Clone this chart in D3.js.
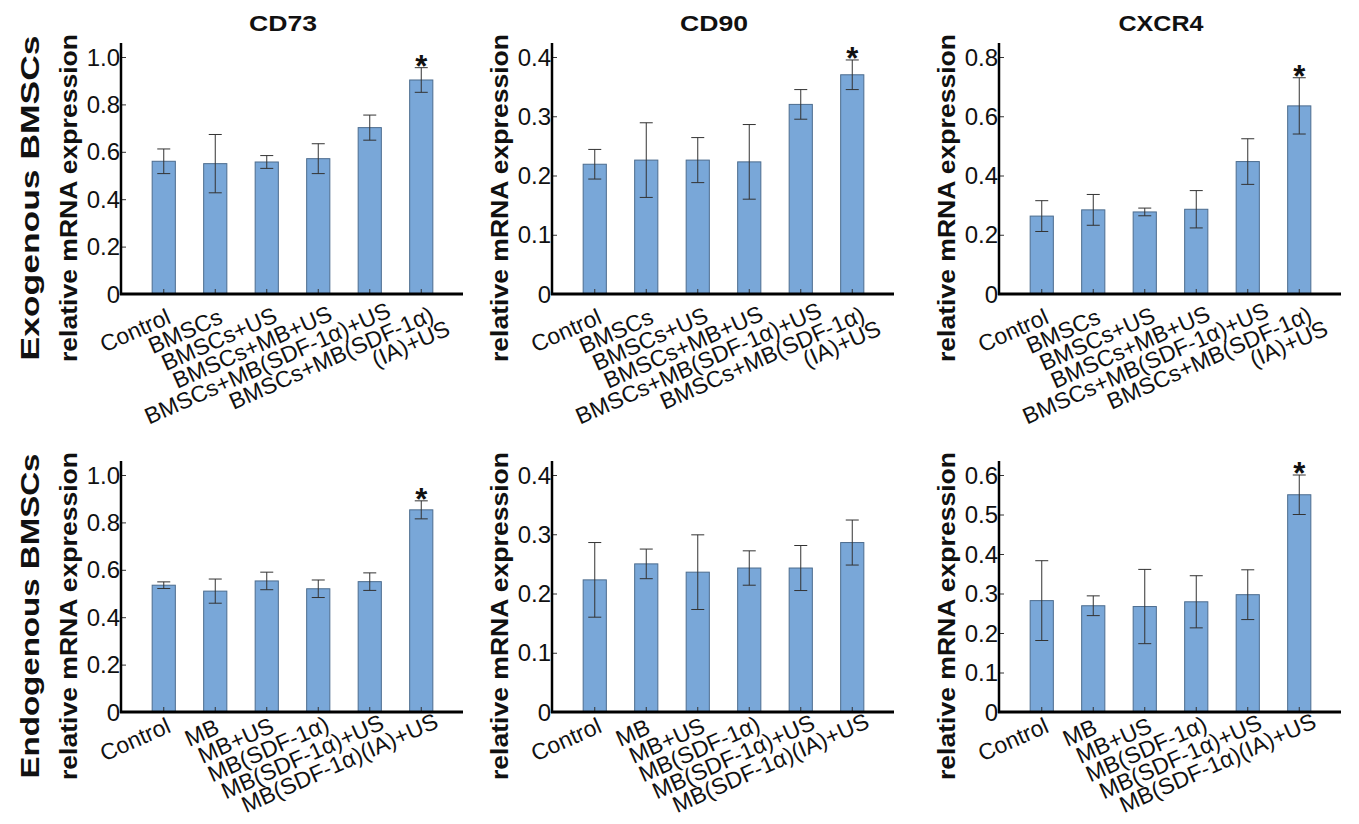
<!doctype html>
<html>
  <head>
    <meta charset="utf-8">
    <title>mRNA expression</title>
    <script src="https://cdn.jsdelivr.net/npm/d3@7"></script>
    <style>
      body { margin: 0; background: #fff; }
      text { font-family: Arial, "Liberation Sans", sans-serif; fill: #111; }
    </style>
  </head>
  <body>
    <script>
      // groups
      const exoGroups = ['Control', 'BMSCs', 'BMSCs+US', 'BMSCs+MB+US', 'BMSCs+MB(SDF-1α)+US', 'BMSCs+MB(SDF-1α)\n(IA)+US'];
      const endoGroups = ['Control', 'MB', 'MB+US', 'MB(SDF-1α)', 'MB(SDF-1α)+US', 'MB(SDF-1α)(IA)+US'];

      // means and error (sd)
      const exoCD73 = [0.56, 0.55, 0.557, 0.571, 0.702, 0.903];
      const exoCD73Err = [0.052, 0.123, 0.027, 0.063, 0.053, 0.052];
      const exoCD90 = [0.219, 0.226, 0.226, 0.223, 0.32, 0.37];
      const exoCD90Err = [0.025, 0.063, 0.038, 0.063, 0.025, 0.025];
      const exoCXCR4 = [0.263, 0.284, 0.277, 0.286, 0.447, 0.635];
      const exoCXCR4Err = [0.052, 0.052, 0.013, 0.063, 0.077, 0.095];

      const endoCD73 = [0.535, 0.51, 0.553, 0.52, 0.55, 0.853];
      const endoCD73Err = [0.014, 0.051, 0.037, 0.037, 0.037, 0.038];
      const endoCD90 = [0.223, 0.25, 0.236, 0.243, 0.243, 0.286];
      const endoCD90Err = [0.063, 0.025, 0.063, 0.029, 0.038, 0.038];
      const endoCXCR4 = [0.282, 0.269, 0.267, 0.279, 0.297, 0.55];
      const endoCXCR4Err = [0.101, 0.025, 0.094, 0.066, 0.063, 0.05];

      // y axis ticks
      const ticksCD73 = [0, 0.2, 0.4, 0.6, 0.8, 1.0];
      const ticksCD90 = [0, 0.1, 0.2, 0.3, 0.4];
      const ticksCXCR4Exo = [0, 0.2, 0.4, 0.6, 0.8];
      const ticksCXCR4Endo = [0, 0.1, 0.2, 0.3, 0.4, 0.5, 0.6];

      const genes = ['CD73', 'CD90', 'CXCR4'];
      const rowLabels = ['Exogenous BMSCs', 'Endogenous BMSCs'];

      const panels = [
        {row: 0, col: 0, groups: exoGroups, mean: exoCD73, err: exoCD73Err, ticks: ticksCD73, star: [5]},
        {row: 0, col: 1, groups: exoGroups, mean: exoCD90, err: exoCD90Err, ticks: ticksCD90, star: [5]},
        {row: 0, col: 2, groups: exoGroups, mean: exoCXCR4, err: exoCXCR4Err, ticks: ticksCXCR4Exo, star: [5]},
        {row: 1, col: 0, groups: endoGroups, mean: endoCD73, err: endoCD73Err, ticks: ticksCD73, star: [5]},
        {row: 1, col: 1, groups: endoGroups, mean: endoCD90, err: endoCD90Err, ticks: ticksCD90, star: []},
        {row: 1, col: 2, groups: endoGroups, mean: endoCXCR4, err: endoCXCR4Err, ticks: ticksCXCR4Endo, star: [5]}
      ];

      const width = 1359;
      const height = 824;
      const axisX = [121, 552, 999];
      const baseY = [294, 712];
      const labelDrop = [31, 22];
      const plotH = 237;

      const svg = d3.select('body').append('svg')
          .attr('width', width)
          .attr('height', height);

      const fmt = v => v === 0 ? '0' : d3.format('.1f')(v);

      panels.forEach(p => {
        const x0 = axisX[p.col];
        const y0 = baseY[p.row];
        const g = svg.append('g');

        const x = d3.scaleBand()
            .domain(p.groups)
            .range([x0 + 17, x0 + 326])
            .paddingInner(0.55)
            .paddingOuter(0.275);
        const y = d3.scaleLinear()
            .domain([0, d3.max(p.ticks)])
            .range([y0, y0 - plotH]);

        const data = p.groups.map((k, i) => ({k, v: p.mean[i], e: p.err[i], i}));

        // bars
        g.selectAll('rect').data(data).join('rect')
            .attr('x', d => x(d.k))
            .attr('y', d => y(d.v))
            .attr('width', x.bandwidth())
            .attr('height', d => y(0) - y(d.v))
            .attr('fill', '#79a7d8')
            .attr('stroke', '#4c6c8e')
            .attr('stroke-width', 1);

        // error bars
        const cx = d => x(d.k) + x.bandwidth() / 2;
        const eb = g.append('g').attr('stroke', '#333').attr('stroke-width', 1);
        eb.selectAll('.stem').data(data).join('line')
            .attr('x1', cx).attr('x2', cx)
            .attr('y1', d => y(d.v + d.e)).attr('y2', d => y(d.v - d.e));
        eb.selectAll('.capT').data(data).join('line')
            .attr('x1', d => cx(d) - 6.5).attr('x2', d => cx(d) + 6.5)
            .attr('y1', d => y(d.v + d.e)).attr('y2', d => y(d.v + d.e));
        eb.selectAll('.capB').data(data).join('line')
            .attr('x1', d => cx(d) - 6.5).attr('x2', d => cx(d) + 6.5)
            .attr('y1', d => y(d.v - d.e)).attr('y2', d => y(d.v - d.e));

        // x ticks (inward)
        g.selectAll('.xt').data(data).join('line')
            .attr('x1', cx).attr('x2', cx)
            .attr('y1', y0).attr('y2', y0 - 5)
            .attr('stroke', '#333');

        // significance stars
        g.selectAll('.star').data(data.filter(d => p.star.includes(d.i))).join('text')
            .attr('x', cx)
            .attr('y', d => y(d.v + d.e) + 9)
            .attr('text-anchor', 'middle')
            .attr('font-size', 31)
            .attr('font-weight', 'bold')
            .text('*');

        // y axis
        const yAxis = d3.axisRight(y).tickValues(p.ticks).tickSize(5).tickFormat('');
        g.append('g')
            .attr('transform', `translate(${x0},0)`)
            .call(yAxis)
            .call(a => a.select('.domain').remove())
            .call(a => a.selectAll('line').attr('stroke', '#333'));
        g.selectAll('.yl').data(p.ticks).join('text')
            .attr('x', x0 - 1)
            .attr('y', d => y(d) + 8.5)
            .attr('text-anchor', 'end')
            .attr('font-size', 24)
            .text(fmt);

        // axis lines
        g.append('line')
            .attr('x1', x0).attr('x2', x0)
            .attr('y1', y0 + 1).attr('y2', y0 - plotH - 14)
            .attr('stroke', '#000').attr('stroke-width', 2.5);
        g.append('line')
            .attr('x1', x0 - 1).attr('x2', x0 + 342)
            .attr('y1', y0).attr('y2', y0)
            .attr('stroke', '#000').attr('stroke-width', 3);

        // x labels
        const labels = g.selectAll('.xlab').data(data).join('text')
            .attr('transform', d => `translate(${cx(d) + 3},${y0 + labelDrop[p.row]}) rotate(-24)`)
            .attr('text-anchor', 'end')
            .attr('font-size', 23);
        labels.each(function(d) {
          const t = d3.select(this);
          const lines = d.k.split('\n');
          lines.forEach((s, j) => {
            t.append('tspan').attr('x', 0).attr('dy', j ? '0.85em' : 0).text(s);
          });
          const len = this.getComputedTextLength() / lines.length;
          t.selectAll('tspan').attr('x', (s, j) => 0.08 * len + (j ? 9 : 0));
        });

        // y label
        g.append('text')
            .attr('transform', `translate(${x0 - 44},${y0 - 96}) rotate(-90)`)
            .attr('text-anchor', 'middle')
            .attr('font-size', 23)
            .attr('font-weight', 'bold')
            .attr('textLength', 328)
            .attr('lengthAdjust', 'spacingAndGlyphs')
            .text('relative mRNA expression');

        if (p.row === 0) {
          g.append('text')
              .attr('x', x0 + 162)
              .attr('y', 31)
              .attr('text-anchor', 'middle')
              .attr('font-size', 22)
              .attr('font-weight', 'bold')
              .attr('textLength', genes[p.col].length * 17)
              .attr('lengthAdjust', 'spacingAndGlyphs')
              .text(genes[p.col]);
        }
        if (p.col === 0) {
          g.append('text')
              .attr('transform', `translate(${x0 - 82},${y0 - 96}) rotate(-90)`)
              .attr('text-anchor', 'middle')
              .attr('font-size', 26)
              .attr('font-weight', 'bold')
              .attr('textLength', 325)
              .attr('lengthAdjust', 'spacingAndGlyphs')
              .text(rowLabels[p.row]);
        }
      });
    </script>
  </body>
</html>
